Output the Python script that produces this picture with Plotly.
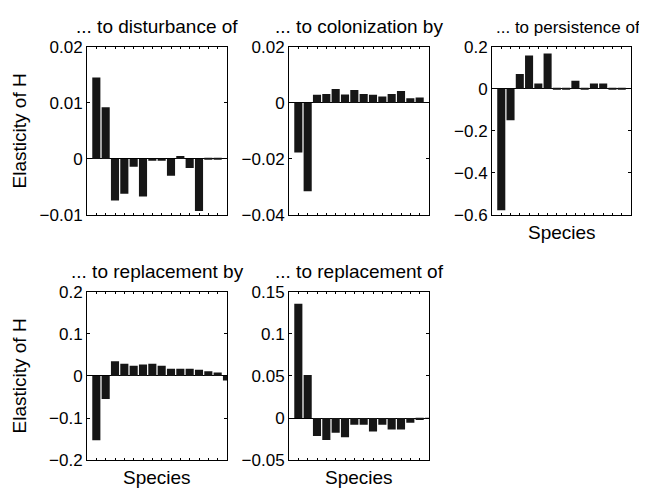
import plotly.graph_objects as go

species = list(range(1, 16))

disturbance_of = [0.0145, 0.0092, -0.0074, -0.0062, -0.0014, -0.0067, -0.0002, -0.0003,
                  -0.0030, 0.0005, -0.0016, -0.0093, 0.0001, 0.0001, 0.0]
colonization_by = [-0.0177, -0.0315, 0.0029, 0.0032, 0.0049, 0.0030, 0.0046, 0.0032,
                   0.0029, 0.0023, 0.0032, 0.0042, 0.0016, 0.0019, 0.0]
persistence_of = [-0.577, -0.149, 0.071, 0.158, 0.025, 0.168, 0.001, 0.001,
                  0.038, 0.001, 0.025, 0.025, 0.001, 0.001, 0.0]
replacement_by = [-0.153, -0.055, 0.035, 0.029, 0.024, 0.027, 0.029, 0.024,
                  0.017, 0.017, 0.017, 0.0145, 0.011, 0.0084, -0.011]
replacement_of = [0.136, 0.051, -0.0214, -0.0263, -0.0176, -0.0229, -0.008, -0.008,
                  -0.016, -0.008, -0.0137, -0.0137, -0.0057, -0.0023, -0.001]

titles = ["... to disturbance of", "... to colonization by", "... to persistence of",
          "... to replacement by", "... to replacement of"]
series = [disturbance_of, colonization_by, persistence_of, replacement_by, replacement_of]
y_ranges = [[-0.01, 0.02], [-0.04, 0.02], [-0.6, 0.2], [-0.2, 0.2], [-0.05, 0.15]]
y_ticks = [[-0.01, 0, 0.01, 0.02], [-0.04, -0.02, 0, 0.02], [-0.6, -0.4, -0.2, 0, 0.2],
           [-0.2, -0.1, 0, 0.1, 0.2], [-0.05, 0, 0.05, 0.1, 0.15]]
y_ticktext = [["\u22120.01", "0", "0.01", "0.02"], ["\u22120.04", "\u22120.02", "0", "0.02"],
              ["\u22120.6", "\u22120.4", "\u22120.2", "0", "0.2"],
              ["\u22120.2", "\u22120.1", "0", "0.1", "0.2"],
              ["\u22120.05", "0", "0.05", "0.1", "0.15"]]

# page has an 8px body margin; figure is sized/positioned to compensate
OFF = 8
W, H = 647 - OFF, 496 - OFF
x_px = [(87, 227), (289, 429), (492, 631), (87, 227), (289, 429)]
y_px = [(39, 214), (39, 214), (39, 214), (294, 469), (294, 469)]
title_cx = [157, 359, 568, 157, 359]
title_size = [19, 19, 17, 19, 19]


def fx(p):
    return (p - OFF) / W


def fy(p):
    return 1 - (p - OFF) / H


FONT = "Liberation Sans, Arial, sans-serif"
TICK_SIZE = 17
LABEL_SIZE = 19
fig = go.Figure()
annotations = []
layout = dict(width=W, height=H, margin=dict(l=0, r=0, t=0, b=0),
              paper_bgcolor="white", plot_bgcolor="white", showlegend=False,
              font=dict(family=FONT, size=TICK_SIZE, color="black"))

for i in range(5):
    n = "" if i == 0 else str(i + 1)
    fig.add_trace(go.Bar(x=species, y=series[i], width=0.87,
                         marker=dict(color="#161616", line=dict(width=0)),
                         xaxis="x" + n, yaxis="y" + n))
    xd = [fx(x_px[i][0]), fx(x_px[i][1])]
    yd = [fy(y_px[i][1]), fy(y_px[i][0])]
    layout["xaxis" + n] = dict(domain=xd, range=[0, 15], anchor="y" + n,
                               tickvals=list(range(1, 16)), ticktext=[""] * 15,
                               ticks="inside", ticklen=2, tickwidth=1, tickcolor="black",
                               showline=True, linecolor="black", linewidth=1, mirror="ticks",
                               showgrid=False, zeroline=False, fixedrange=True)
    layout["yaxis" + n] = dict(domain=yd, range=y_ranges[i], anchor="x" + n,
                               tickvals=y_ticks[i], ticktext=y_ticktext[i],
                               ticks="inside", ticklen=3, tickwidth=1, tickcolor="black",
                               showline=True, linecolor="black", linewidth=1, mirror="ticks",
                               showgrid=False, zeroline=True, zerolinecolor="black",
                               zerolinewidth=1, tickfont=dict(size=TICK_SIZE, family=FONT),
                               fixedrange=True)
    annotations.append(dict(text=titles[i], x=fx(title_cx[i]), y=fy(y_px[i][0]), xref="paper",
                            yref="paper", xanchor="center", yanchor="bottom", yshift=8,
                            showarrow=False, font=dict(size=title_size[i], family=FONT)))

for i in [2, 3, 4]:
    cx = fx((x_px[i][0] + x_px[i][1]) / 2)
    annotations.append(dict(text="Species", x=cx, y=fy(y_px[i][1]), xref="paper",
                            yref="paper", xanchor="center", yanchor="top", yshift=-5,
                            showarrow=False, font=dict(size=LABEL_SIZE, family=FONT)))

for i in [0, 3]:
    cy = fy((y_px[i][0] + y_px[i][1]) / 2)
    annotations.append(dict(text="Elasticity of H", x=0, y=cy, xref="paper",
                            yref="paper", xanchor="left", yanchor="middle", borderpad=0,
                            textangle=-90, showarrow=False,
                            font=dict(size=LABEL_SIZE, family=FONT)))

layout["annotations"] = annotations
fig.update_layout(**layout)
fig.write_html("out.html")
